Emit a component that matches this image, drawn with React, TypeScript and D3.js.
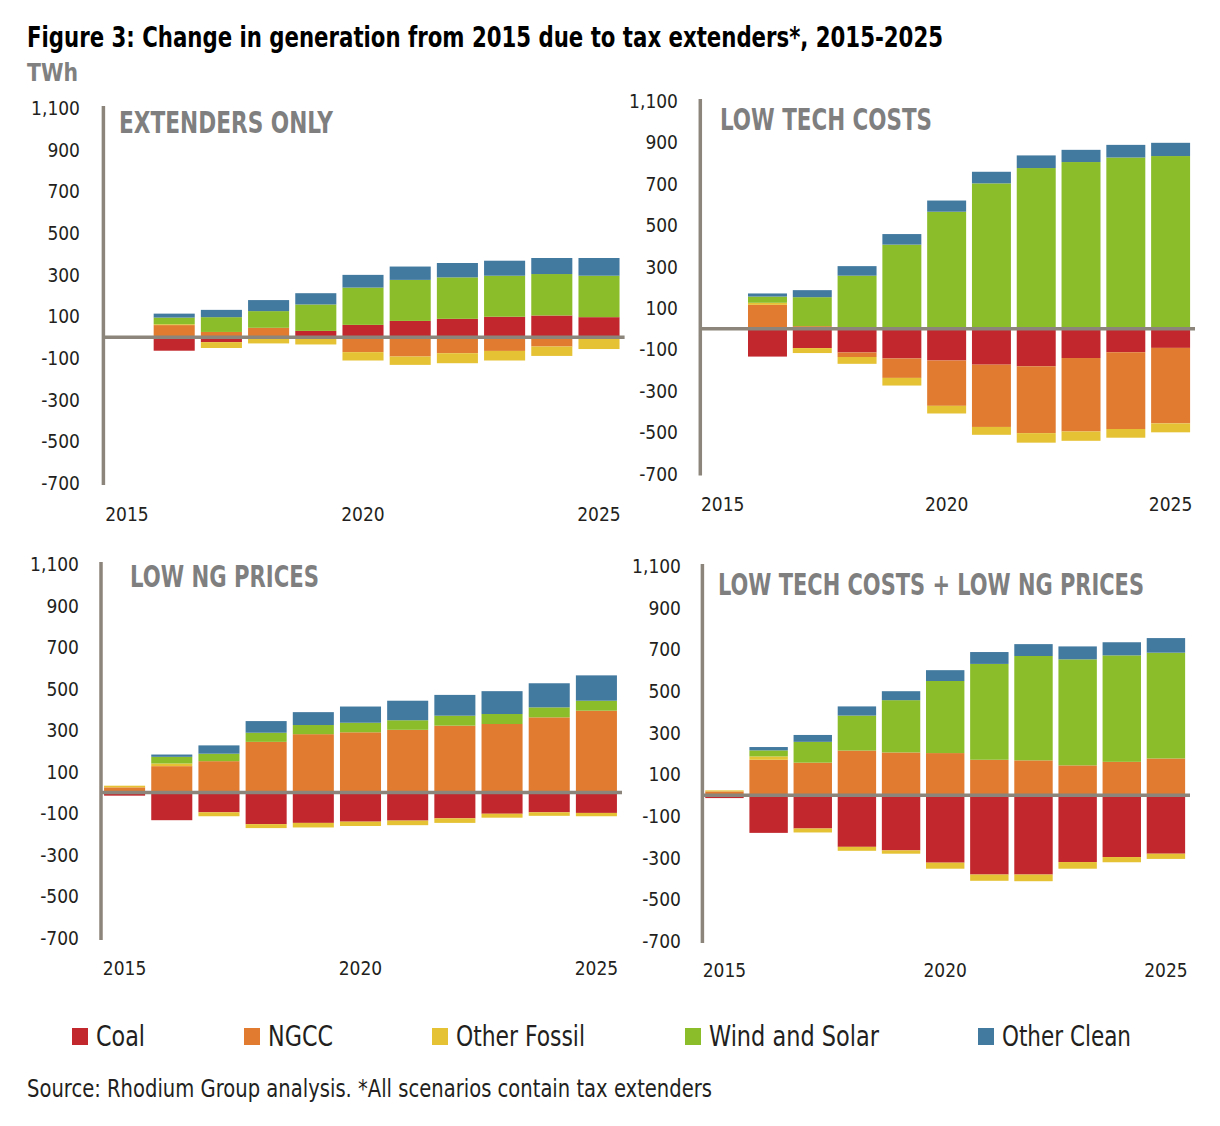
import React from "react";
import * as d3 from "d3";

const years = [2015, 2016, 2017, 2018, 2019, 2020, 2021, 2022, 2023, 2024, 2025];
const seriesKeys = ["coal", "ngcc", "otherFossil", "windSolar", "otherClean"];
const seriesLabels = ["Coal", "NGCC", "Other Fossil", "Wind and Solar", "Other Clean"];
const seriesColors = ["#c1272d", "#e07b30", "#e5c233", "#8bbd2a", "#42799f"];
const yTicks = [1100, 900, 700, 500, 300, 100, -100, -300, -500, -700];
const xTickYears = [2015, 2020, 2025];

// Extenders only
const extCoal = [0, -65, -24, 0, 30, 59, 78, 88, 98, 104, 96];
const extNgcc = [0, 58, 25, 45, 0, -72, -93, -77, -66, -45, -5];
const extOtherFossil = [0, 4, -28, -30, -35, -40, -40, -48, -46, -45, -52];
const extWindSolar = [0, 32, 71, 80, 127, 179, 197, 199, 197, 199, 199];
const extOtherClean = [0, 19, 35, 53, 54, 61, 64, 69, 72, 77, 85];

// Low tech costs
const ltcCoal = [0, -135, -94, -115, -144, -154, -174, -182, -142, -114, -93];
const ltcNgcc = [0, 115, 12, -22, -94, -219, -301, -323, -355, -371, -365];
const ltcOtherFossil = [0, 10, -24, -33, -37, -37, -38, -46, -45, -42, -43];
const ltcWindSolar = [0, 30, 140, 256, 406, 565, 702, 776, 805, 827, 834];
const ltcOtherClean = [0, 15, 34, 46, 51, 54, 56, 61, 59, 61, 64];

// Low NG prices
const lngCoal = [-15, -133, -95, -152, -146, -140, -135, -124, -102, -95, -98];
const lngNgcc = [25, 127, 151, 244, 281, 290, 302, 322, 330, 362, 394];
const lngOtherFossil = [8, 13, -19, -19, -22, -21, -22, -22, -19, -17, -16];
const lngWindSolar = [0, 32, 36, 44, 44, 46, 46, 48, 48, 48, 48];
const lngOtherClean = [0, 11, 40, 56, 62, 78, 94, 100, 110, 116, 122];

// Low tech costs + low NG prices
const bothCoal = [-14, -181, -160, -248, -265, -324, -381, -381, -321, -297, -281];
const bothNgcc = [18, 170, 156, 214, 205, 202, 170, 167, 143, 160, 176];
const bothOtherFossil = [5, 16, -19, -19, -16, -29, -30, -32, -32, -25, -25];
const bothWindSolar = [0, 29, 100, 168, 251, 346, 460, 501, 509, 511, 508];
const bothOtherClean = [0, 16, 33, 44, 43, 52, 57, 57, 62, 63, 70];

const FONT = "'Liberation Sans Narrow', 'DejaVu Sans Condensed', 'Roboto Condensed', 'Arial Narrow', Roboto, sans-serif";
const AXIS = "#8c857b";
const fmtTick = (t) => d3.format(",")(t).replace("\u2212", "-");

function buildRows(coal, ngcc, of, ws, oc) {
  return years.map((y, i) => ({
    year: y,
    coal: coal[i],
    ngcc: ngcc[i],
    otherFossil: of[i],
    windSolar: ws[i],
    otherClean: oc[i],
  }));
}

const panels = [
  {
    title: "EXTENDERS ONLY", titleX: 119, titleY: 133, titleW: 214,
    x0: 103.4, x1: 622.6, yTop: 108, yBot: 483, tickRight: 80, xLabelY: 521,
    rows: buildRows(extCoal, extNgcc, extOtherFossil, extWindSolar, extOtherClean),
  },
  {
    title: "LOW TECH COSTS", titleX: 720, titleY: 130, titleW: 212,
    x0: 700.3, x1: 1193, yTop: 101, yBot: 473.5, tickRight: 678, xLabelY: 511,
    rows: buildRows(ltcCoal, ltcNgcc, ltcOtherFossil, ltcWindSolar, ltcOtherClean),
  },
  {
    title: "LOW NG PRICES", titleX: 130, titleY: 587, titleW: 189,
    x0: 101, x1: 620, yTop: 564, yBot: 938, tickRight: 79, xLabelY: 975,
    rows: buildRows(lngCoal, lngNgcc, lngOtherFossil, lngWindSolar, lngOtherClean),
  },
  {
    title: "LOW TECH COSTS + LOW NG PRICES", titleX: 718, titleY: 595, titleW: 426,
    x0: 702.4, x1: 1188, yTop: 566, yBot: 941, tickRight: 681, xLabelY: 977,
    rows: buildRows(bothCoal, bothNgcc, bothOtherFossil, bothWindSolar, bothOtherClean),
  },
];

function Panel({ p }) {
  const x = d3.scaleBand().domain(years.map(String)).range([p.x0, p.x1]).paddingInner(0.13).paddingOuter(0.065);
  const y = d3.scaleLinear().domain([-700, 1100]).range([p.yBot, p.yTop]);
  const stacked = d3.stack().keys(seriesKeys).offset(d3.stackOffsetDiverging)(p.rows);
  const zeroY = y(0);
  return (
    <g>
      {stacked.map((s, si) => (
        <g key={s.key} fill={seriesColors[si]}>
          {s.map((d, i) => {
            const a = y(d[0]);
            const b = y(d[1]);
            const h = Math.abs(a - b);
            if (h < 0.01) return null;
            return (
              <rect key={i} x={x(String(d.data.year))} width={x.bandwidth()} y={Math.min(a, b)} height={h} />
            );
          })}
        </g>
      ))}
      <line x1={p.x0} x2={p.x0} y1={y(1100) - 2} y2={y(-700) + 2} stroke={AXIS} strokeWidth={3.5} />
      <line x1={p.x0} x2={p.x1 + 2} y1={zeroY} y2={zeroY} stroke={AXIS} strokeWidth={3.5} />
      {yTicks.map((t) => (
        <text key={t} x={p.tickRight} y={y(t) + 7} textAnchor="end" fontSize={19} fill="#231f20" fontFamily={FONT}>
          {fmtTick(t)}
        </text>
      ))}
      {xTickYears.map((yr) => (
        <text key={yr} x={x(String(yr)) + x.bandwidth() / 2} y={p.xLabelY} textAnchor="middle" fontSize={19} fill="#231f20" fontFamily={FONT}>
          {yr}
        </text>
      ))}
      <text x={p.titleX} y={p.titleY} fontSize={31} fontWeight="bold" fill="#7f7f7f" fontFamily={FONT} textLength={p.titleW} lengthAdjust="spacingAndGlyphs">
        {p.title}
      </text>
    </g>
  );
}

const legendX = [72, 244, 432, 685, 978];
const legendW = [49, 65, 129, 170, 129];

export default function App() {
  return (
    <svg width={1220} height={1126} style={{ position: "absolute", left: 0, top: 0, background: "#fff" }}>
      <rect width={1220} height={1126} fill="#fff" />
      <text x={27} y={47} fontSize={29} fontWeight="bold" fill="#000" fontFamily={FONT} textLength={916} lengthAdjust="spacingAndGlyphs">
        Figure 3: Change in generation from 2015 due to tax extenders*, 2015-2025
      </text>
      <text x={27} y={81} fontSize={25} fontWeight="bold" fill="#808080" fontFamily={FONT} textLength={51} lengthAdjust="spacingAndGlyphs">
        TWh
      </text>
      {panels.map((p, i) => (
        <Panel key={i} p={p} />
      ))}
      {seriesLabels.map((l, i) => (
        <g key={l}>
          <rect x={legendX[i]} y={1028} width={16} height={17} fill={seriesColors[i]} />
          <text x={legendX[i] + 24} y={1046} fontSize={28} fill="#231f20" fontFamily={FONT} textLength={legendW[i]} lengthAdjust="spacingAndGlyphs">
            {l}
          </text>
        </g>
      ))}
      <text x={27} y={1097} fontSize={24} fill="#231f20" fontFamily={FONT} textLength={685} lengthAdjust="spacingAndGlyphs">
        Source: Rhodium Group analysis. *All scenarios contain tax extenders
      </text>
    </svg>
  );
}
